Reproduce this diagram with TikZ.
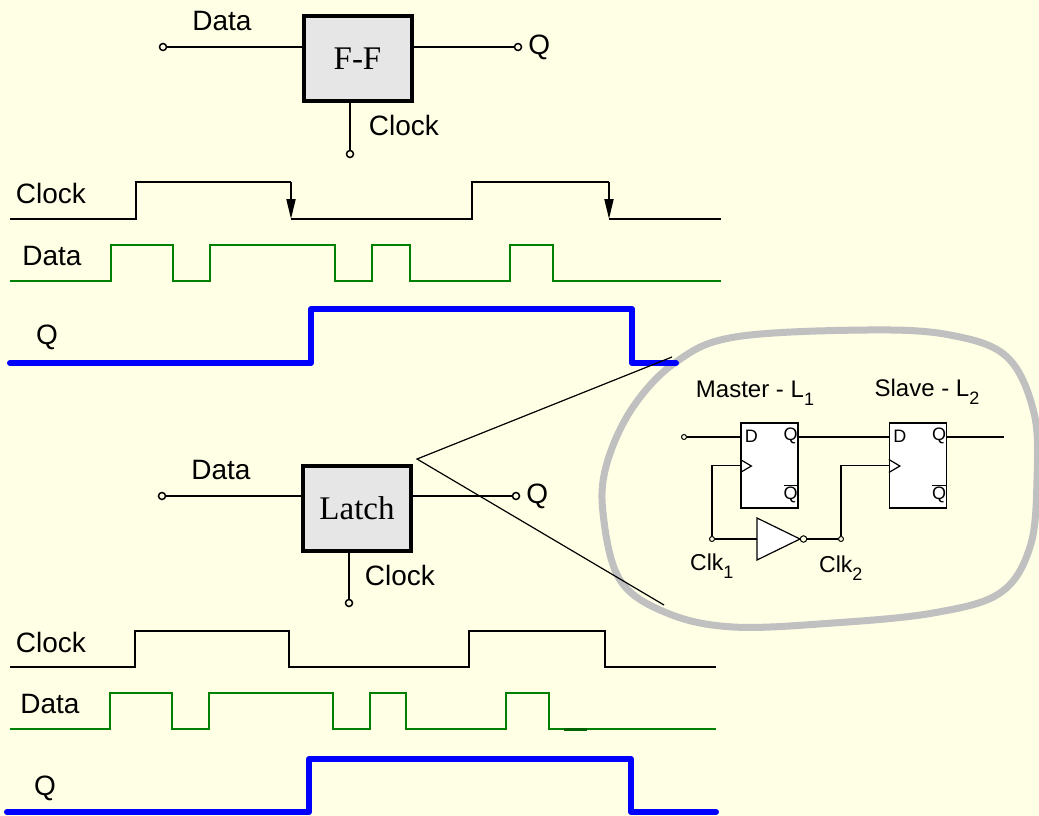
\documentclass[tikz,border=0pt]{standalone}
\usepackage{fontspec}
\setmainfont{Liberation Serif}
\setsansfont{Liberation Sans}
\usetikzlibrary{arrows.meta,calc,positioning}
\definecolor{paper}{RGB}{255,255,230}
\definecolor{boxgray}{RGB}{230,230,230}
\definecolor{ringgray}{RGB}{192,192,192}
\definecolor{wavegreen}{RGB}{0,128,0}
\definecolor{darkgreen}{RGB}{0,100,0}
\newcommand{\lowidx}[1]{\raisebox{-8pt}{\fontsize{18}{18}\selectfont #1}}
\tikzset{
    blok/.style={
           rectangle,
           draw=black, line width=4pt,
           fill=boxgray,
           minimum width=108pt, minimum height=85pt,
           inner sep=0pt,
           font=\fontsize{33}{36}\selectfont},
    ffbox/.style={
           rectangle,
           draw=black, line width=1.3pt,
           fill=white,
           minimum width=57pt, minimum height=85pt,
           inner sep=0pt},
    term/.style={
           circle,
           draw=black, line width=1.5pt,
           fill=paper,
           minimum size=7pt,
           inner sep=0pt},
    dot/.style={
           circle,
           draw=black, line width=1pt,
           fill=paper,
           minimum size=5pt,
           inner sep=0pt},
    lbl/.style={
           font=\sffamily\fontsize{28}{30}\selectfont,
           inner sep=0pt},
    small/.style={
           font=\sffamily\fontsize{24}{26}\selectfont,
           inner sep=0pt},
    pin/.style={
           font=\sffamily\fontsize{18}{20}\selectfont,
           inner sep=0pt},
    wire/.style={line width=1.5pt},
    fine/.style={line width=1.2pt},
    clk/.style={line width=2pt, line join=miter},
    edge/.style={-{Triangle[length=20pt,width=9pt]}},
    dat/.style={wavegreen, line width=2pt},
    qline/.style={blue, line width=6pt, line cap=round, line join=round}
}
\begin{document}
\begin{tikzpicture}[x=1pt, y=-1pt]
        \fill[paper] (0,0) rectangle (1039,816);
        \useasboundingbox (0,0) rectangle (1039,816);

        % flip-flop block
        \node[blok] (FF) at (357.5,58.5) {F-F};
        \node[term] (d1) at (163,47) {};
        \node[term] (q1) at (518,47) {};
        \node[term] (c1) at (350,154) {};
        \node[lbl] at (222,21) {Data};
        \node[lbl, right=6pt of q1] {Q};
        \node[lbl] at (404,125) {Clock};
        \draw[wire] (d1) -- (d1 -| FF.west);
        \draw[wire] (FF.east |- q1) -- (q1);
        \draw[wire] (c1) -- (c1 |- FF.south);

        % zoom ring
        \draw[ringgray, line width=7pt] plot[smooth cycle, tension=0.6] coordinates {
            (676,362) (735,337) (867,330) (950,335) (1007,357) (1034,413)
            (1037,480) (1030,547) (1000,593) (933,613) (833,623) (733,627)
            (667,613) (620,580) (603,513) (607,463) (633,407)};

        % timing, flip-flop
        \node[lbl] at (51,193) {Clock};
        \node[lbl] at (52,256) {Data};
        \node[lbl] at (47,337) {Q};
        \draw[clk] (10,219) -- (136,219) -- (136,182) -- (291,182);
        \draw[clk, edge] (291,182) -- (291,219);
        \draw[clk] (291,219) -- (472,219) -- (472,182) -- (609,182);
        \draw[clk, edge] (609,182) -- (609,219);
        \draw[clk] (609,219) -- (721,219);
        \draw[dat] (10,281) -- (111,281) -- (111,245) -- (173,245) -- (173,281)
            -- (210,281) -- (210,245) -- (335,245) -- (335,281) -- (372,281)
            -- (372,245) -- (410,245) -- (410,281) -- (510,281) -- (510,245)
            -- (553,245) -- (553,281) -- (721,281);
        \draw[qline] (10,363) -- (311,363) -- (311,309) -- (632,309) -- (632,363) -- (676,363);

        % latch block
        \node[blok] (L) at (357,508.5) {Latch};
        \node[term] (d2) at (162,496) {};
        \node[term] (q2) at (516,496) {};
        \node[term] (c2) at (349,603) {};
        \node[lbl] at (221,470) {Data};
        \node[lbl, right=6pt of q2] {Q};
        \node[lbl] at (400,575) {Clock};
        \draw[wire] (d2) -- (d2 -| L.west);
        \draw[wire] (L.east |- q2) -- (q2);
        \draw[wire] (c2) -- (c2 |- L.south);

        % callout
        \coordinate (apex) at (417,459);
        \coordinate (zt) at (672,357);
        \coordinate (zb) at (664,605);
        \draw[fine] (zt) -- (apex) -- (zb);

        % master-slave inside the ring
        \node[ffbox] (M) at (769.5,465.5) {};
        \node[ffbox] (S) at (918,465.5) {};
        \node[small] at (755,393) {Master - L\lowidx{1}};
        \node[small] at (927,392) {Slave - L\lowidx{2}};
        \node[pin] at ($(M.north west)+(11,14)$) {D};
        \node[pin] at ($(M.north east)+(-8,14)$) {Q};
        \node[pin] at ($(M.south east)+(-8,-15)$) {$\overline{\hbox{Q}}$};
        \node[pin] at ($(S.north west)+(11,14)$) {D};
        \node[pin] at ($(S.north east)+(-8,14)$) {Q};
        \node[pin] at ($(S.south east)+(-8,-15)$) {$\overline{\hbox{Q}}$};
        \draw[fine] ($(M.west)+(0,-6)$) -- ++(11,6.5) -- ++(-11,6.5);
        \draw[fine] ($(S.west)+(0,-6)$) -- ++(11,6.5) -- ++(-11,6.5);
        \node[dot] (din) at (684,437) {};
        \coordinate (dout) at (1004,437);
        \draw[fine] (din) -- (din -| M.west);
        \draw[fine] (M.east |- din) -- (S.west |- din);
        \draw[fine] (S.east |- din) -- (dout);
        \node[dot] (k1) at (712,539) {};
        \node[dot] (k2) at (841,539) {};
        \coordinate (invin) at (757,539);
        \draw[fine, fill=white] (invin) ++(0,-21) -- ++(43,21) -- ++(-43,21) -- cycle;
        \node[dot, minimum size=6.5pt] (bub) at (803.5,539) {};
        \draw[fine] (k1) -- (invin);
        \draw[fine] (bub) -- (k2);
        \draw[fine] (k1) |- (M.west);
        \draw[fine] (k2) |- (S.west);
        \node[small, anchor=base west, font=\sffamily\fontsize{23}{25}\selectfont] at (690,570) {Clk\lowidx{1}};
        \node[small, anchor=base west, font=\sffamily\fontsize{23}{25}\selectfont] at (819,572) {Clk\lowidx{2}};

        % timing, latch
        \node[lbl] at (51,642) {Clock};
        \node[lbl] at (50,704) {Data};
        \node[lbl] at (45,788) {Q};
        \draw[clk] (10,667) -- (135,667) -- (135,631) -- (289,631) -- (289,667)
            -- (469,667) -- (469,631) -- (605,631) -- (605,667) -- (716,667);
        \draw[dat] (10,729) -- (110,729) -- (110,693) -- (172,693) -- (172,729)
            -- (209,729) -- (209,693) -- (333,693) -- (333,729) -- (370,729)
            -- (370,693) -- (406,693) -- (406,729) -- (506,729) -- (506,693)
            -- (549,693) -- (549,729) -- (716,729);
        \draw[darkgreen, line width=3pt] (564,729) -- (587,729);
        \draw[qline] (7,812) -- (309,812) -- (309,759) -- (631,759) -- (631,812) -- (716,812);
\end{tikzpicture}
\end{document}
